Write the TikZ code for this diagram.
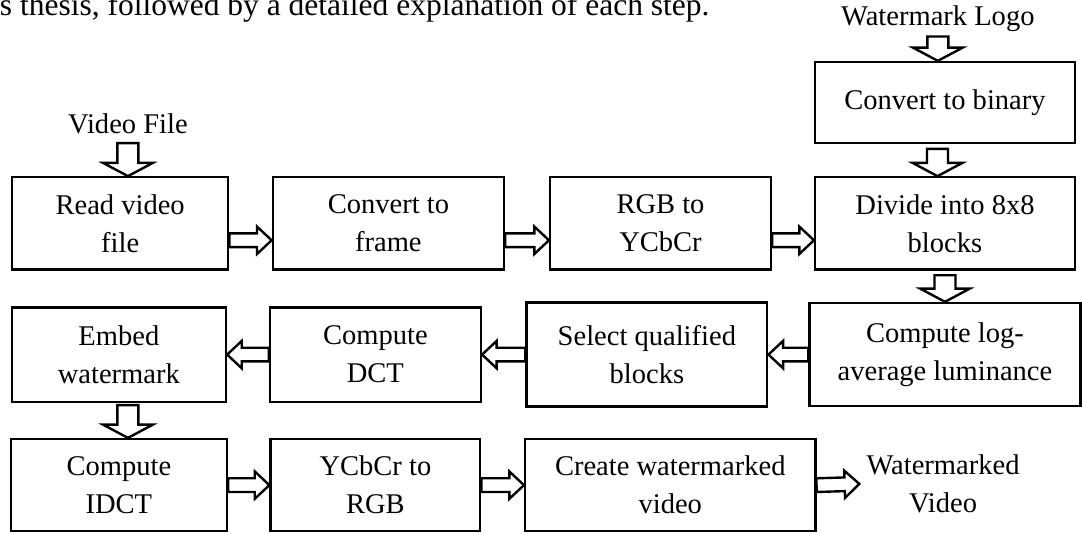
\documentclass[tikz,border=0pt]{standalone}
\usepackage{fontspec}
\setmainfont{Liberation Serif}
\usepackage{tikz}
\usetikzlibrary{calc}

\tikzset{
  stepbox/.style={draw, line width=1pt, align=center, inner sep=0pt},
  label/.style={inner sep=1pt, align=center},
  % hollow block arrow: half shaft width, half head width, head length
  fatarrow/.style n args={3}{
    draw, line width=1.05pt, line join=miter,
    to path={
      let \p1=(\tikztostart), \p2=(\tikztotarget),
          \n1={atan2(\y2-\y1,\x2-\x1)},
          \n2={veclen(\x2-\x1,\y2-\y1)} in
      ([shift={(\p1)},rotate=\n1]0pt,#1)
      -- ([shift={(\p1)},rotate=\n1]{\n2*1pt-#3},#1)
      -- ([shift={(\p1)},rotate=\n1]{\n2*1pt-#3},#2)
      -- (\p2)
      -- ([shift={(\p1)},rotate=\n1]{\n2*1pt-#3},-#2)
      -- ([shift={(\p1)},rotate=\n1]{\n2*1pt-#3},-#1)
      -- ([shift={(\p1)},rotate=\n1]0pt,-#1)
      -- cycle
    }
  },
  harrow/.style={fatarrow={3.0pt}{6.0pt}{6.4pt}},
  varrow/.style={fatarrow={4.6pt}{10.9pt}{5.8pt}}
}

\begin{document}
\begin{tikzpicture}[font=\fontsize{12.5}{16.6}\selectfont]

\useasboundingbox (0, 0) rectangle (16.66, 8.21);

% Running text of the page, cut off at the top
\node[anchor=base east, inner sep=0pt, font=\fontsize{13.8}{16}\selectfont] (pagetext) at (10.93, 7.97)
  {s thesis, followed by a detailed explanation of each step.};

% ==================== Inputs ====================
\node[label, anchor=base] (logo) at (14.44, 7.82) {Watermark Logo};
\node[label, anchor=base] (vfile) at (1.97, 6.16) {Video File};

% ==================== Row 0 ====================
\node[stepbox, minimum width=4.00cm, minimum height=1.25cm] (binary) at (14.55, 6.63) {Convert to binary};

% ==================== Row 1 ====================
\node[stepbox, minimum width=3.33cm, minimum height=1.42cm] (read) at (1.85, 4.77) {Read video\\file};
\node[stepbox, minimum width=3.56cm, minimum height=1.42cm] (frame) at (5.98, 4.77) {Convert to\\frame};
\node[stepbox, minimum width=3.40cm, minimum height=1.42cm] (rgb) at (10.17, 4.77) {RGB to\\YCbCr};
\node[stepbox, minimum width=4.00cm, minimum height=1.42cm] (divide) at (14.55, 4.77) {Divide into 8x8\\blocks};

% ==================== Row 2 ====================
\node[stepbox, minimum width=3.30cm, minimum height=1.45cm] (embed) at (1.83, 2.75) {Embed\\watermark};
\node[stepbox, minimum width=3.25cm, minimum height=1.45cm] (dct) at (5.78, 2.75) {Compute\\DCT};
\node[stepbox, minimum width=3.71cm, minimum height=1.60cm] (select) at (9.96, 2.75) {Select qualified\\blocks};
\node[stepbox, minimum width=4.17cm, minimum height=1.59cm] (luma) at (14.55, 2.75) {Compute log-\\average luminance};

% ==================== Row 3 ====================
\node[stepbox, minimum width=3.33cm, minimum height=1.42cm] (idct) at (1.83, 0.74) {Compute\\IDCT};
\node[stepbox, minimum width=3.23cm, minimum height=1.42cm] (ycc) at (5.78, 0.74) {YCbCr to\\RGB};
\node[stepbox, minimum width=4.47cm, minimum height=1.42cm] (create) at (10.32, 0.74) {Create watermarked\\video};
\node[label, inner sep=3pt] (wmvideo) at (14.52, 0.76) {Watermarked\\Video};

% ==================== Block arrows ====================
\draw[varrow] ([yshift=-1pt]logo.south) to (logo.south |- binary.north);
\draw[varrow] ([shift={(-0.115cm,-2pt)}]binary.south) to ([xshift=-0.115cm]divide.north);
\draw[varrow] ([yshift=-3pt]vfile.south) to (vfile.south |- read.north);

\draw[harrow] ([yshift=-0.26cm]read.east) to ([yshift=-0.26cm]frame.west);
\draw[harrow] ([yshift=-0.26cm]frame.east) to ([yshift=-0.26cm]rgb.west);
\draw[harrow] ([yshift=-0.26cm]rgb.east) to ([yshift=-0.26cm]divide.west);

\draw[varrow] ([yshift=-2pt]divide.south) to (luma.north);

\draw[harrow] (luma.west) to (select.east);
\draw[harrow] (select.west) to (dct.east);
\draw[harrow] (dct.west) to (embed.east);

\draw[varrow] ([shift={(0.14cm,-1pt)}]embed.south) to ([xshift=0.14cm]idct.north);

\draw[harrow] (idct.east) to (ycc.west);
\draw[harrow] (ycc.east) to (create.west);
\draw[harrow] (create.east) to (wmvideo.west);

\end{tikzpicture}
\end{document}
